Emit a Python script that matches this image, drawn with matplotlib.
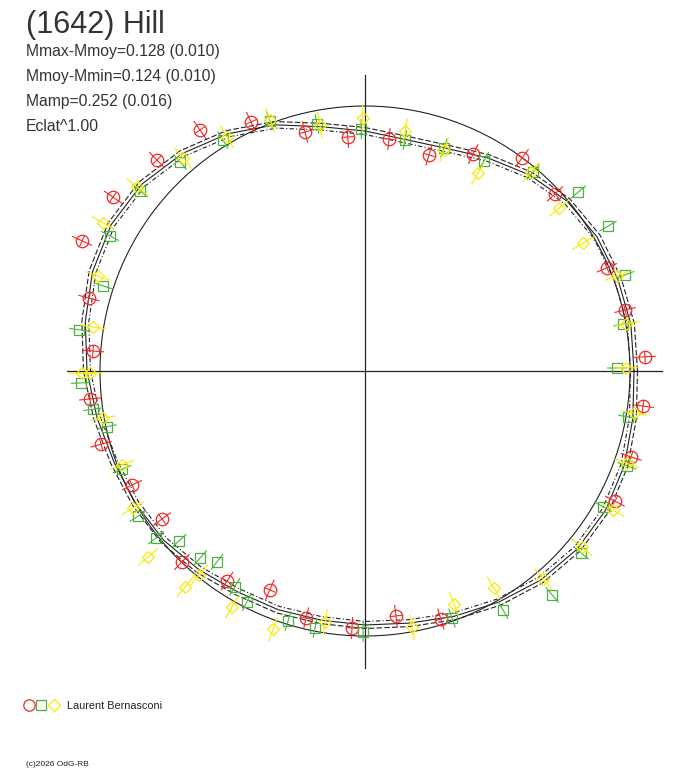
import numpy as np
import matplotlib
matplotlib.use("Agg")
import matplotlib.pyplot as plt
from matplotlib.collections import LineCollection

# ---------------- data (angle in degrees, radius in plot units) ----------------

# fitted light curve, one radius every 10 degrees
fit_angles = list(range(0, 360, 10))
fit_radius = [269, 270, 269, 268, 264, 256, 246, 237, 235, 240,
              248, 262, 274, 284, 291, 293, 290, 284, 278, 272,
              267, 265, 263, 259, 255, 254, 253, 254, 256, 261,
              267, 273, 277, 278, 276, 272]
ref_radius = 265

red_ang = [124.4, 114.6, 104.1, 94.2, 84.1, 73.5, 63.5, 53.6, 43.0, 23.1,
           13.2, 2.9, 352.8, 342.1, 332.5, 287.0, 277.2, 267.1, 256.6, 246.5,
           236.7, 226.2, 216.1, 206.1, 195.5, 185.8, 175.8, 165.2, 155.3, 145.4,
           134.6]
red_r = [292.1, 273.9, 246.4, 234.6, 233.2, 225.3, 242.4, 264.6, 259.7, 263.0,
         267.1, 280.3, 280.2, 279.6, 281.8, 259.4, 246.9, 257.3, 254.0, 238.7,
         251.3, 264.5, 251.2, 259.4, 273.9, 276.4, 272.7, 285.5, 311.4, 306.2,
         296.3]

green_ang = [90.9, 80.2, 70.5, 60.5, 49.8, 40.0, 30.8, 20.3, 10.3, 0.7,
             350.1, 340.1, 330.3, 319.9, 309.9, 300.0, 289.4, 269.6, 259.0, 252.9,
             242.9, 238.9, 232.2, 228.6, 222.4, 218.6, 212.6, 202.0, 192.2, 188.0,
             182.4, 171.8, 162.0, 152.1, 141.3, 131.5, 121.6, 110.8, 101.0]
green_r = [242.0, 234.4, 236.6, 241.4, 260.4, 278.2, 283.0, 277.2, 262.2, 252.0,
           267.0, 278.7, 274.1, 282.5, 291.8, 276.0, 261.9, 261.0, 261.8, 261.6,
           259.4, 252.1, 241.6, 249.4, 252.0, 267.5, 269.4, 262.0, 264.0, 274.6,
           284.3, 288.9, 275.4, 288.5, 288.1, 279.1, 271.2, 267.4, 251.6]

yellow_ang = [90.5, 80.5, 70.3, 60.3, 50.2, 40.0, 30.4, 20.7, 10.2, 0.7,
              351.1, 340.6, 330.7, 320.9, 310.6, 300.7, 290.9, 280.4, 261.0, 250.4,
              240.6, 230.2, 230.9, 220.6, 210.6, 201.1, 190.2, 180.4, 180.4, 170.8,
              160.4, 150.5, 141.1, 130.5, 120.5, 110.7, 100.4]
yellow_r = [253.0, 243.3, 234.7, 228.0, 259.1, 253.4, 252.8, 269.3, 265.2, 261.0,
            272.3, 277.7, 284.3, 279.4, 273.8, 252.4, 249.4, 260.3, 254.2, 273.9,
            270.9, 281.2, 263.0, 285.8, 269.4, 260.5, 266.2, 283.0, 275.0, 275.5,
            283.4, 300.9, 293.0, 280.2, 271.7, 268.4, 250.1]

errors = {"red": 11, "green": 10, "yellow": 13}

title = "(1642) Hill"
info_lines = ["Mmax-Mmoy=0.128 (0.010)",
              "Mmoy-Mmin=0.124 (0.010)",
              "Mamp=0.252 (0.016)",
              "Eclat^1.00"]
observer = "Laurent Bernasconi"
credit = "(c)2026 OdG-RB"

RED, GREEN, YELLOW = "#f02828", "#4cb040", "#f8ea00"

# ---------------- figure ----------------

W, H = 688, 768
CX, CY = 365, 371

plt.rcParams["font.family"] = ["Liberation Sans", "DejaVu Sans"]

fig = plt.figure(figsize=(W / 100, H / 100), dpi=100)
ax = fig.add_axes([0, 0, 1, 1])
ax.set_xlim(-CX, W - CX)
ax.set_ylim(-(H - CY), CY)
ax.set_aspect("equal")
ax.axis("off")


def to_xy(ang, r):
    a = np.radians(np.asarray(ang, dtype=float))
    r = np.asarray(r, dtype=float)
    return r * np.cos(a), r * np.sin(a)


def px(x, y):
    return x - CX, CY - y


# axes cross
ax.plot([-298, 297], [0, 0], color="#222222", lw=0.9)
ax.plot([0, 0], [-297, 296], color="#222222", lw=0.9)

# reference circle
t = np.radians(np.arange(0, 361, 2))
ax.plot(ref_radius * np.cos(t), ref_radius * np.sin(t), color="#222222", lw=0.8)

# fitted curve and its envelope
fa = fit_angles + [fit_angles[0] + 360]
fr = np.array(fit_radius + [fit_radius[0]], dtype=float)
x, y = to_xy(fa, fr)
ax.plot(x, y, color="#222222", lw=0.8)
x, y = to_xy(fa, fr + 3.5)
ax.plot(x, y, color="#222222", lw=0.8, ls=(0, (5, 2)))
x, y = to_xy(fa, fr - 3.5)
ax.plot(x, y, color="#222222", lw=0.8, ls=(0, (4, 2, 1, 2)))


def draw_series(ang, r, err, color, marker, size, tick=False):
    ang = np.asarray(ang, dtype=float)
    r = np.asarray(r, dtype=float)
    x0, y0 = to_xy(ang, r - err)
    x1, y1 = to_xy(ang, r + err)
    segs = [[(a, b), (c, d)] for a, b, c, d in zip(x0, y0, x1, y1)]
    if tick:
        # small tangential mark at each point
        a = np.radians(ang)
        xm, ym = to_xy(ang, r)
        tx, ty = -np.sin(a) * 6, np.cos(a) * 6
        segs += [[(p - u, q - v), (p + u, q + v)] for p, q, u, v in zip(xm, ym, tx, ty)]
    ax.add_collection(LineCollection(segs, colors=color, linewidths=0.8))
    xm, ym = to_xy(ang, r)
    ax.plot(xm, ym, ls="none", marker=marker, ms=size, mfc="none",
            mec=color, mew=0.9)


draw_series(red_ang, red_r, errors["red"], RED, "o", 9, tick=True)
draw_series(green_ang, green_r, errors["green"], GREEN, "s", 7)
draw_series(yellow_ang, yellow_r, errors["yellow"], YELLOW, "D", 6.3)

# texts
ax.text(*px(26, 33), title, fontsize=22, color="#333333", va="baseline")
for i, line in enumerate(info_lines):
    ax.text(*px(26, 56 + 25 * i), line, fontsize=11.3, color="#333333", va="baseline")

# legend row
ax.plot(*px(29, 705), marker="o", ms=8.2, mfc="none", mec=RED, mew=0.9)
ax.plot(*px(41, 705), marker="s", ms=6.5, mfc="none", mec=GREEN, mew=0.9)
ax.plot(*px(54, 705), marker="D", ms=5.8, mfc="none", mec=YELLOW, mew=0.9)
ax.text(*px(67, 709), observer, fontsize=7.8, color="#222222", va="baseline")
ax.text(*px(26, 766), credit, fontsize=6, color="#222222", va="baseline")

fig.savefig("out.png", dpi=100)
